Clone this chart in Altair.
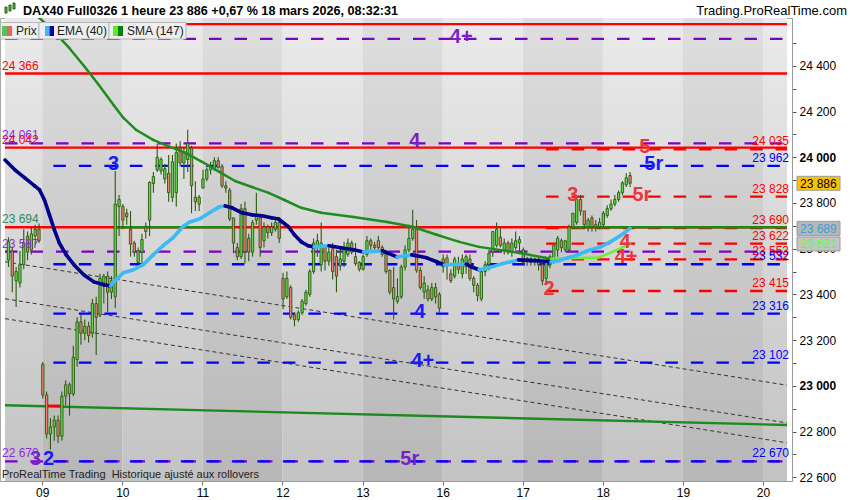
import json
import altair as alt
import pandas as pd

FONT = "Liberation Sans"

# ---- layout of the time axis: one hourly bar = 1/21 of a session ----
SESSION_LABELS = ["09", "10", "11", "12", "13", "16", "17", "18", "19", "20"]
BARS_PER_SESSION = 21
FIRST_BAR = -9                      # series starts 9 bars before the 09 open
S_MIN, S_MAX = -0.465, 9.30
Y_MIN, Y_MAX = 22584, 24609
W, H = 792, 463

TITLE = "DAX40 Full0326 1 heure 23 886 +0,67 % 18 mars 2026, 08:32:31"

# ---- hourly candles (Fri 06 tail, then sessions 09 .. 18) ----
open_ = (
    [23550, 23590, 23460, 23450, 23530, 23655, 23595, 23655, 23685]
    + [23095, 22960, 22790, 22820, 22850, 22780, 22955, 23005, 22965, 23115, 23280, 23230, 23260, 23230, 23360, 23310, 23450, 23480, 23410, 23390, 23785]
    + [23785, 23755, 23685, 23625, 23540, 23585, 23695, 23725, 23885, 23945, 23940, 23905, 23930, 23825, 23845, 24040, 23975, 23990, 24040, 23825, 23795]
    + [23865, 23905, 23945, 23950, 23985, 23960, 23875, 23855, 23735, 23605, 23565, 23775, 23645, 23585, 23725, 23735, 23635, 23695, 23670, 23685, 23715]
    + [23470, 23390, 23430, 23310, 23290, 23320, 23360, 23400, 23500, 23605, 23530, 23605, 23545, 23600, 23565, 23525, 23545, 23575, 23625, 23565, 23540]
    + [23510, 23575, 23635, 23615, 23635, 23605, 23585, 23505, 23430, 23370, 23390, 23520, 23595, 23645, 23685, 23505, 23410, 23420, 23380, 23430, 23400]
    + [23520, 23560, 23490, 23480, 23530, 23490, 23520, 23555, 23470, 23440, 23380, 23500, 23530, 23585, 23615, 23650, 23595, 23625, 23585, 23605, 23625]
    + [23595, 23545, 23555, 23540, 23555, 23530, 23470, 23530, 23545, 23595, 23635, 23595, 23595, 23695, 23715, 23815, 23765, 23695, 23735, 23695, 23695]
    + [23705, 23745, 23775, 23795, 23815, 23845, 23880, 23920]
)
high = (
    [23650, 23610, 23520, 23590, 23685, 23675, 23695, 23705, 23710]
    + [23105, 22975, 22860, 22870, 22870, 22975, 23025, 23015, 23175, 23300, 23310, 23290, 23280, 23380, 23390, 23490, 23490, 23500, 23480, 23940, 23835]
    + [23795, 23775, 23765, 23635, 23605, 23665, 23715, 23895, 23935, 24060, 24000, 23970, 24010, 24010, 24060, 24070, 24045, 24120, 24050, 23895, 23835]
    + [23945, 23955, 23980, 24000, 24000, 23970, 23895, 23865, 23735, 23625, 23795, 23805, 23665, 23725, 23845, 23745, 23715, 23705, 23715, 23735, 23735]
    + [23495, 23500, 23440, 23320, 23330, 23380, 23420, 23510, 23645, 23665, 23715, 23615, 23605, 23625, 23595, 23605, 23630, 23645, 23635, 23625, 23545]
    + [23575, 23655, 23645, 23630, 23655, 23615, 23595, 23510, 23520, 23470, 23530, 23615, 23705, 23770, 23725, 23520, 23480, 23440, 23450, 23450, 23410]
    + [23575, 23575, 23510, 23565, 23565, 23575, 23575, 23575, 23480, 23450, 23500, 23545, 23595, 23675, 23715, 23695, 23645, 23635, 23645, 23675, 23655]
    + [23605, 23565, 23565, 23560, 23560, 23540, 23545, 23575, 23615, 23655, 23645, 23635, 23705, 23755, 23825, 23835, 23765, 23735, 23745, 23725, 23735]
    + [23765, 23790, 23815, 23835, 23855, 23895, 23930, 23935]
)
low = (
    [23520, 23410, 23345, 23430, 23510, 23550, 23575, 23615, 23625]
    + [22945, 22770, 22722, 22760, 22750, 22760, 22915, 22870, 22955, 23085, 23180, 23200, 23190, 23210, 23135, 23300, 23360, 23320, 23380, 23340, 23655]
    + [23685, 23705, 23565, 23565, 23535, 23535, 23645, 23655, 23845, 23935, 23925, 23885, 23805, 23805, 23785, 23960, 23905, 23935, 23755, 23765, 23765]
    + [23865, 23895, 23925, 23940, 23950, 23865, 23845, 23720, 23580, 23550, 23555, 23535, 23545, 23565, 23705, 23565, 23605, 23645, 23655, 23675, 23625]
    + [23335, 23380, 23290, 23260, 23280, 23310, 23350, 23390, 23490, 23565, 23500, 23505, 23525, 23465, 23410, 23505, 23520, 23565, 23575, 23525, 23500]
    + [23505, 23565, 23595, 23585, 23595, 23565, 23490, 23400, 23290, 23360, 23380, 23505, 23585, 23635, 23495, 23420, 23380, 23370, 23370, 23360, 23320]
    + [23495, 23465, 23450, 23470, 23490, 23470, 23490, 23460, 23410, 23370, 23370, 23480, 23505, 23565, 23605, 23605, 23575, 23575, 23565, 23595, 23575]
    + [23525, 23525, 23525, 23525, 23505, 23440, 23450, 23515, 23535, 23565, 23585, 23585, 23585, 23685, 23705, 23745, 23685, 23675, 23675, 23675, 23685]
    + [23695, 23735, 23765, 23785, 23805, 23835, 23870, 23870]
)
close = (
    [23630, 23480, 23500, 23530, 23625, 23585, 23665, 23685, 23635]
    + [22960, 22790, 22820, 22850, 22780, 22955, 23005, 22965, 23125, 23280, 23230, 23260, 23220, 23360, 23300, 23470, 23480, 23410, 23460, 23795, 23815]
    + [23725, 23740, 23620, 23585, 23590, 23640, 23675, 23890, 23915, 24000, 23990, 23950, 23845, 23980, 24020, 23975, 24020, 24060, 23875, 23805, 23825]
    + [23905, 23945, 23960, 23985, 23955, 23875, 23865, 23730, 23625, 23565, 23775, 23585, 23585, 23715, 23745, 23605, 23695, 23670, 23695, 23715, 23645]
    + [23380, 23470, 23300, 23290, 23320, 23370, 23410, 23500, 23625, 23635, 23625, 23545, 23585, 23500, 23480, 23555, 23605, 23625, 23585, 23535, 23510]
    + [23565, 23635, 23615, 23605, 23605, 23575, 23500, 23410, 23380, 23390, 23520, 23595, 23645, 23685, 23505, 23430, 23450, 23380, 23430, 23390, 23340]
    + [23555, 23535, 23460, 23555, 23510, 23555, 23565, 23470, 23440, 23395, 23500, 23530, 23580, 23675, 23685, 23615, 23625, 23585, 23625, 23635, 23640]
    + [23540, 23555, 23540, 23555, 23530, 23460, 23540, 23565, 23615, 23645, 23605, 23635, 23695, 23755, 23815, 23765, 23705, 23725, 23695, 23705, 23715]
    + [23755, 23775, 23795, 23815, 23845, 23888, 23910, 23886]
)

# ---- moving averages (session position, value) ----
ema_pos = [-0.465, -0.342, -0.218, -0.095, -0.033, 0.028, 0.090, 0.152, 0.213, 0.300, 0.398, 0.522,
           0.645, 0.768, 0.854, 0.891, 1.015, 1.138, 1.261, 1.385, 1.508, 1.631, 1.755, 1.841,
           1.964, 2.088, 2.211, 2.285, 2.371, 2.494, 2.618, 2.741, 2.864, 2.951, 3.074, 3.148,
           3.234, 3.321, 3.395, 3.481, 3.580, 3.728, 3.888, 4.012, 4.123, 4.246, 4.307, 4.430,
           4.529, 4.615, 4.677, 4.800, 4.924, 5.022, 5.109, 5.294, 5.355, 5.454, 5.577, 5.737,
           5.947, 6.070, 6.193, 6.354, 6.440, 6.563, 6.687, 6.810, 6.970, 7.094, 7.217, 7.341]
ema_val = [23988, 23945, 23910, 23875, 23857, 23813, 23748, 23682, 23625, 23573, 23529, 23485,
           23455, 23442, 23437, 23455, 23495, 23508, 23530, 23573, 23613, 23647, 23696, 23717,
           23730, 23757, 23783, 23787, 23779, 23757, 23748, 23744, 23735, 23730, 23696, 23661,
           23630, 23613, 23608, 23610, 23613, 23604, 23595, 23586, 23588, 23591, 23582, 23564,
           23569, 23573, 23569, 23560, 23543, 23529, 23531, 23533, 23521, 23508, 23516, 23534,
           23551, 23549, 23547, 23543, 23547, 23560, 23573, 23591, 23608, 23630, 23656, 23689]

sma_pos = [-0.120, -0.033, 0.152, 0.337, 0.522, 0.707, 0.891, 1.015, 1.175, 1.385, 1.594, 1.792,
           2.001, 2.211, 2.408, 2.618, 2.827, 3.024, 3.234, 3.481, 3.888, 4.307, 4.628, 4.924,
           5.208, 5.454, 5.947, 6.280, 6.354, 6.563, 6.933, 7.094, 7.341]
sma_val = [24635, 24609, 24547, 24478, 24399, 24316, 24228, 24172, 24119, 24076, 24045, 24019,
           23979, 23936, 23896, 23870, 23844, 23813, 23779, 23757, 23739, 23717, 23696, 23661,
           23630, 23608, 23582, 23560, 23556, 23558, 23560, 23582, 23621]

# ---- drawn objects ----
RED, PURPLE, BLUE = "#ff0000", "#7d00c8", "#0000ff"
SOFT_RED, MARK_BLUE, MARK_PURPLE = "#e8383d", "#1a1aff", "#7a1ec8"

level_value = [24582, 24518, 24366, 24061, 24042, 24035, 23962, 23828, 23694, 23690,
               23622, 23587, 23553, 23532, 23415, 23316, 23102, 22670, 22670]
level_color = [RED, PURPLE, RED, PURPLE, RED, RED, BLUE, RED, RED, RED,
               RED, PURPLE, RED, BLUE, RED, BLUE, BLUE, PURPLE, BLUE]
level_dashed = [False, True, False, True, False, True, True, True, False, True,
                True, True, True, True, True, True, True, True, True]
level_start = [S_MIN, S_MIN, S_MIN, S_MIN, S_MIN, 6.292, 0.139, 6.292, S_MIN, 6.292,
               6.292, S_MIN, 6.292, 0.139, 6.292, 0.139, 0.139, S_MIN, 0.139]

# green overlays on the 23 694 level
green_from = [0.892, 6.625]
green_to = [2.372, S_MAX]
green_level = 23694

# sloping lines: value at left edge, value at right edge
channel_v0 = [23543, 23381, 23294]
channel_v1 = [23003, 22838, 22751]
trend_v0, trend_v1 = 22915, 22829
red_seg_from, red_seg_to, red_seg_value = 0.053, 0.237, 22913

mark_text = ["4+", "4", "3", "5r", "5", "5r", "3", "4", "4+", "2", "4", "4+", "5r", "3", "2"]
mark_value = [24518, 24061, 23962, 23962, 24035, 23828, 23828, 23622, 23553, 23415,
              23316, 23102, 22670, 22670, 22670]
mark_pos = [5.232, 4.652, 0.891, 7.636, 7.525, 7.488, 6.625, 7.278, 7.290, 6.329,
            4.714, 4.751, 4.590, -0.083, 0.078]
mark_color = [MARK_PURPLE, MARK_PURPLE, MARK_BLUE, MARK_BLUE, SOFT_RED, SOFT_RED, SOFT_RED,
              SOFT_RED, SOFT_RED, SOFT_RED, MARK_BLUE, MARK_BLUE, MARK_PURPLE, MARK_PURPLE, MARK_BLUE]

left_value = [24366, 24061, 24042, 23694, 23587, 22670]
left_color = [RED, "#8a2be2", RED, "#2e8b62", "#8a2be2", "#8a2be2"]
right_value = [24035, 23962, 23828, 23690, 23622, 23553, 23532, 23415, 23316, 23102, 22670]
right_color = [RED, BLUE, RED, RED, RED, RED, BLUE, RED, BLUE, BLUE, BLUE]

box_value = [23886, 23689, 23621]
box_fill = ["#ffc000", "#b7b7b7", "#c4c4c4"]
box_text = ["#000000", "#3a9fdc", "#5cff2a"]


def fmt(v):
    return f"{v:,}".replace(",", " ")


# ---- scales and axes ----
x_scale = alt.Scale(domain=[S_MIN, S_MAX], nice=False, zero=False)
y_scale = alt.Scale(domain=[Y_MIN, Y_MAX], nice=False, zero=False)
x_axis = alt.Axis(
    values=list(range(len(SESSION_LABELS))),
    labelExpr=f"{json.dumps(SESSION_LABELS)}[round(datum.value)]",
    title=None, grid=False, tickSize=4, tickColor="#777777", domainColor="#9a9a9a",
    labelFont=FONT, labelFontSize=12, labelColor="#000000", labelPadding=2,
    labelFlush=False, labelOverlap=False,
)
y_axis = alt.Axis(
    orient="right", values=list(range(22600, 24600, 100)),
    labelExpr="(datum.value % 200 === 0 && datum.value <= 24400) ? replace(format(datum.value, ','), ',', ' ') : ''",
    labelFontWeight={"condition": {"test": "datum.value % 1000 === 0", "value": "bold"}, "value": "normal"},
    title=None, grid=False, tickSize=4, tickColor="#555555", domainColor="#9a9a9a",
    labelFont=FONT, labelFontSize=12, labelColor="#000000", labelPadding=3,
    labelFlush=False, labelOverlap=False,
)


def X(f):
    return alt.X(f"{f}:Q", scale=x_scale, axis=x_axis)


def Y(f):
    return alt.Y(f"{f}:Q", scale=y_scale, axis=y_axis)


def vgrad(top, bottom):
    return alt.LinearGradient(
        gradient="linear",
        stops=[alt.GradientStop(color=top, offset=0), alt.GradientStop(color=bottom, offset=1)],
        x1=0, x2=0, y1=0, y2=1,
    )


# ---- background session bands ----
bands = pd.DataFrame(
    [{"s0": max(d, S_MIN), "s1": min(d + 1, S_MAX), "light": d % 2 == 1} for d in range(-1, 10)]
)
band_light = alt.Chart(bands[bands.light]).mark_rect(fill=vgrad("#eaeaea", "#c3c3c3")).encode(
    x=X("s0"), x2="s1", y=alt.value(0), y2=alt.value(H))
band_dark = alt.Chart(bands[~bands.light]).mark_rect(fill=vgrad("#dedede", "#b7b7b7")).encode(
    x=X("s0"), x2="s1", y=alt.value(0), y2=alt.value(H))

# ---- sloping lines ----
chan = pd.DataFrame({"s0": S_MIN, "s1": S_MAX, "v0": channel_v0, "v1": channel_v1})
channel = alt.Chart(chan).mark_rule(color="#333333", strokeWidth=1, strokeDash=[4, 3]).encode(
    x=X("s0"), x2="s1", y=Y("v0"), y2="v1")
trend = alt.Chart(pd.DataFrame({"s0": [S_MIN], "s1": [S_MAX], "v0": [trend_v0], "v1": [trend_v1]})).mark_rule(
    color="#1c8a1c", strokeWidth=2.4).encode(x=X("s0"), x2="s1", y=Y("v0"), y2="v1")
red_seg = alt.Chart(pd.DataFrame({"s0": [red_seg_from], "s1": [red_seg_to], "v": [red_seg_value]})).mark_rule(
    color=RED, strokeWidth=2.4).encode(x=X("s0"), x2="s1", y=Y("v"))

# ---- horizontal levels ----
levels = pd.DataFrame({"v": level_value, "c": level_color, "dashed": level_dashed,
                       "s0": level_start, "s1": S_MAX})
lv_solid = alt.Chart(levels[~levels.dashed]).mark_rule(strokeWidth=2.4).encode(
    x=X("s0"), x2="s1", y=Y("v"), color=alt.Color("c:N", scale=None))
lv_dash = alt.Chart(levels[levels.dashed]).mark_rule(strokeWidth=2.3, strokeDash=[12.5, 13]).encode(
    x=X("s0"), x2="s1", y=Y("v"), color=alt.Color("c:N", scale=None))
green_lv = alt.Chart(pd.DataFrame({"s0": green_from, "s1": green_to, "v": green_level})).mark_rule(
    color="#178a17", strokeWidth=2.4).encode(x=X("s0"), x2="s1", y=Y("v"))

# ---- candles ----
n = len(open_)
bars = pd.DataFrame({"open": open_, "high": high, "low": low, "close": close})
bars["s"] = [(FIRST_BAR + i + 0.15) / BARS_PER_SESSION for i in range(n)]
bars["lo"] = bars[["open", "close"]].min(axis=1)
bars["hi"] = bars[["open", "close"]].max(axis=1)
bars["fill"] = ["#62d84a" if c >= o else "#e8836f" for o, c in zip(open_, close)]
WICK = "#2a5a12"
wicks = alt.Chart(bars).mark_rule(color=WICK, strokeWidth=1.1).encode(x=X("s"), y=Y("low"), y2="high")
bodies = alt.Chart(bars).mark_bar(size=2.3, stroke=WICK, strokeWidth=0.9, orient="vertical").encode(
    x=X("s"), y=Y("lo"), y2="hi", fill=alt.Fill("fill:N", scale=None))


# ---- moving averages as slope-coloured segments ----
def segments(pos, val, up, down):
    rows = []
    for i in range(len(pos) - 1):
        rows.append({"s0": pos[i], "s1": pos[i + 1], "v0": val[i], "v1": val[i + 1],
                     "c": up if val[i + 1] >= val[i] else down})
    return pd.DataFrame(rows)


sma = alt.Chart(segments(sma_pos, sma_val, "#6cec34", "#1e8c1e")).mark_rule(
    strokeWidth=2.5, strokeCap="round", clip=True).encode(
    x=X("s0"), x2="s1", y=Y("v0"), y2="v1", color=alt.Color("c:N", scale=None))
ema = alt.Chart(segments(ema_pos, ema_val, "#3cbaf6", "#00008c")).mark_rule(
    strokeWidth=3.6, strokeCap="round", clip=True).encode(
    x=X("s0"), x2="s1", y=Y("v0"), y2="v1", color=alt.Color("c:N", scale=None))

# ---- level annotations ----
marks = alt.Chart(pd.DataFrame({"t": mark_text, "v": mark_value, "s": mark_pos, "c": mark_color})).mark_text(
    font=FONT, fontSize=20, fontWeight="bold", baseline="middle", align="center", dy=-2).encode(
    x=X("s"), y=Y("v"), text="t:N", color=alt.Color("c:N", scale=None))
left_lbl = alt.Chart(pd.DataFrame({"v": left_value, "t": [fmt(v) for v in left_value], "c": left_color})).mark_text(
    font=FONT, fontSize=12, align="left", baseline="alphabetic", dy=-4).encode(
    x=alt.value(2), y=Y("v"), text="t:N", color=alt.Color("c:N", scale=None))
right_lbl = alt.Chart(pd.DataFrame({"v": right_value, "t": [fmt(v) for v in right_value], "c": right_color})).mark_text(
    font=FONT, fontSize=12, align="right", baseline="alphabetic", dy=-4).encode(
    x=alt.value(789), y=Y("v"), text="t:N", color=alt.Color("c:N", scale=None))

# ---- price tags on the value axis ----
half = 7 * (Y_MAX - Y_MIN) / H
tags = pd.DataFrame({"v": box_value, "t": [fmt(v) for v in box_value], "f": box_fill, "c": box_text})
tags["lo"] = tags["v"] - half
tags["hi"] = tags["v"] + half
tag_box = alt.Chart(tags).mark_rect(stroke="#9a9a9a", strokeWidth=1).encode(
    x=alt.value(797), x2=alt.value(840), y=Y("lo"), y2="hi", fill=alt.Fill("f:N", scale=None))
tag_txt = alt.Chart(tags).mark_text(font=FONT, fontSize=12, align="left", baseline="middle", dy=0.5).encode(
    x=alt.value(800), y=Y("v"), text="t:N", color=alt.Color("c:N", scale=None))

# ---- header, legend and footer text ----
one = pd.DataFrame({"k": [0]})


def txt(text, x, y, size=12, weight="normal", align="left", color="#000000"):
    return alt.Chart(one).mark_text(text=text, font=FONT, fontSize=size, fontWeight=weight,
                                    align=align, baseline="alphabetic", color=color).encode(
        x=alt.value(x), y=alt.value(y))


def box(x0, x1, y0, y1, fill, stroke=None):
    kw = {"fill": fill}
    if stroke:
        kw.update(stroke=stroke, strokeWidth=1)
    return alt.Chart(one).mark_rect(**kw).encode(
        x=alt.value(x0), x2=alt.value(x1), y=alt.value(y0), y2=alt.value(y1))


header = [
    box(-1, 851, -18, -0.5, "#ffffff"),
    # small candlestick icon
    box(5, 7, -11, -5, "#58c040", WICK), box(9, 11, -13, -7, "#58c040", WICK), box(13, 15, -15, -9, "#58c040", WICK),
    txt(TITLE, 23, -3, 12.6, "bold"),
    txt("Trading.ProRealTime.com", 847, -3, 13, align="right"),
]
legend = [
    box(0.5, 39, 4.5, 21, "#eeeeee", "#b8b8b8"),
    box(39, 109, 4.5, 21, "#eeeeee", "#b8b8b8"),
    box(109, 186, 4.5, 21, "#eeeeee", "#b8b8b8"),
    box(2, 7, 8, 18, "#56c456"), box(7, 12, 8, 18, "#e8645e"),
    box(45, 49.5, 8, 18, "#3cbaf6"), box(49.5, 54, 8, 18, "#0000a0"),
    box(113, 118, 8, 18, "#55ee22"), box(118, 123, 8, 18, "#0c7a0c"),
    txt("Prix", 16, 17, 12, color="#222222"),
    txt("EMA (40)", 57, 17, 12, color="#222222"),
    txt("SMA (147)", 127, 17, 12, color="#222222"),
]
footer = [txt("ProRealTime Trading\u00a0 Historique ajusté aux rollovers", 2, 460, 11, color="#222222")]

chart = alt.layer(
    band_light, band_dark, channel, trend, red_seg,
    lv_solid, lv_dash, green_lv,
    wicks, bodies, sma, ema,
    marks, left_lbl, right_lbl, tag_box, tag_txt,
    *header, *legend, *footer,
).properties(
    width=W, height=H,
    padding={"left": 0, "top": 18, "right": 58, "bottom": 19},
    autosize=alt.AutoSizeParams(type="none"),
    background="#ffffff",
).configure_view(stroke="#a8a8a8", strokeWidth=1)

chart.save("out.html", embed_options={"renderer": "svg", "actions": False})
